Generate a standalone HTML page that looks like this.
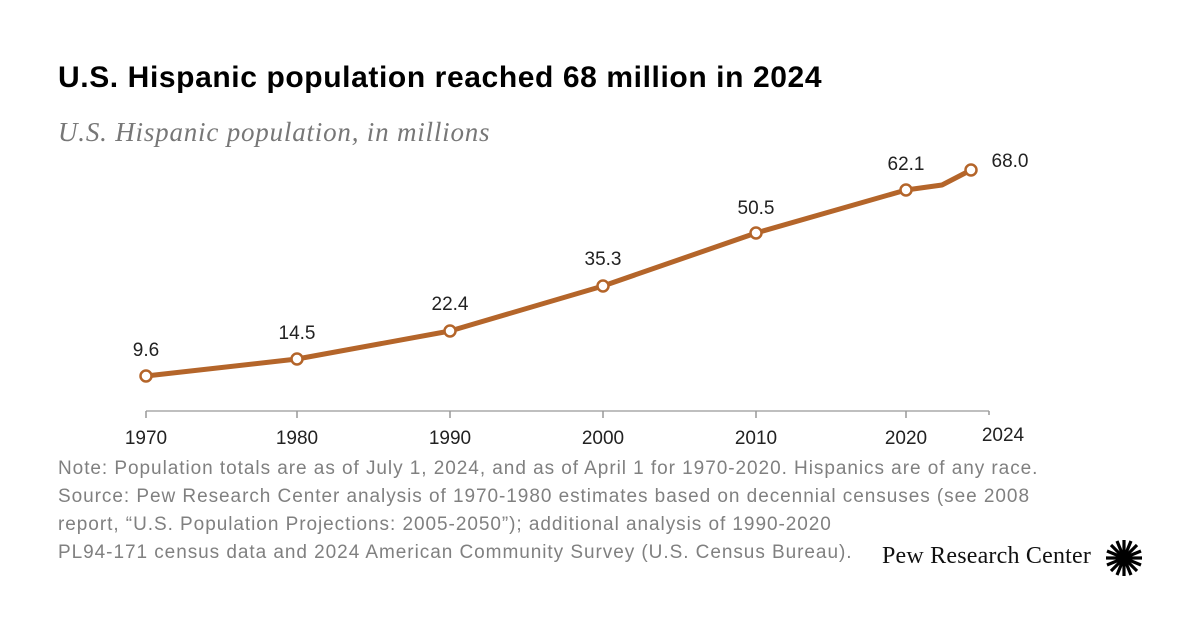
<!DOCTYPE html>
<html><head><meta charset="utf-8"><style>
body{margin:0;width:1200px;height:628px;background:#fff;overflow:hidden;position:relative;font-family:"Liberation Sans",sans-serif}
.t{position:absolute;left:58px;top:61px;font-size:30px;font-weight:bold;color:#000;letter-spacing:0.6px}
.s{position:absolute;left:58px;top:117px;font-family:"Liberation Serif",serif;font-style:italic;font-size:27px;color:#777;letter-spacing:0.8px}
.n{position:absolute;left:58px;top:455px;font-size:19px;line-height:28px;color:#808080;letter-spacing:0.95px}
.logo{position:absolute;left:882px;top:543px;font-family:"Liberation Serif",serif;font-size:24px;color:#111;letter-spacing:0.2px}
</style></head><body>
<div class="t">U.S. Hispanic population reached 68 million in 2024</div>
<div class="s">U.S. Hispanic population, in millions</div>
<svg width="1200" height="628" style="position:absolute;left:0;top:0">
<line x1="146" y1="411" x2="989" y2="411" stroke="#aaa" stroke-width="1.5"/>
<g stroke="#999" stroke-width="1.5">
<line x1="146" y1="411" x2="146" y2="418"/><line x1="297" y1="411" x2="297" y2="418"/><line x1="450" y1="411" x2="450" y2="418"/><line x1="603" y1="411" x2="603" y2="418"/><line x1="756" y1="411" x2="756" y2="418"/><line x1="906" y1="411" x2="906" y2="418"/><line x1="989" y1="411" x2="989" y2="415"/>
</g>
<g font-family="Liberation Sans" font-size="19" fill="#222" text-anchor="middle">
<text x="146" y="444">1970</text><text x="297" y="444">1980</text><text x="450" y="444">1990</text><text x="603" y="444">2000</text><text x="756" y="444">2010</text><text x="906" y="444">2020</text><text x="1003" y="441">2024</text>
<text x="146" y="356">9.6</text><text x="297" y="339">14.5</text><text x="450" y="310">22.4</text><text x="603" y="265">35.3</text><text x="756" y="214">50.5</text><text x="906" y="170">62.1</text><text x="1010" y="167">68.0</text>
</g>
<polyline points="146,376 297,359 450,331 603,286 756,233 906,190 942,185 971,170" fill="none" stroke="#b4652a" stroke-width="5" stroke-linejoin="round"/>
<g fill="#fff" stroke="#b4652a" stroke-width="2.5">
<circle cx="146" cy="376" r="5.5"/><circle cx="297" cy="359" r="5.5"/><circle cx="450" cy="331" r="5.5"/><circle cx="603" cy="286" r="5.5"/><circle cx="756" cy="233" r="5.5"/><circle cx="906" cy="190" r="5.5"/><circle cx="971" cy="170" r="5.5"/>
</g>
<g transform="translate(1124,558)" stroke="#000" stroke-width="3.2">
<line x1="-18" y1="0" x2="18" y2="0"/><line x1="0" y1="-18" x2="0" y2="18"/>
<line x1="-13" y1="-13" x2="13" y2="13"/><line x1="-13" y1="13" x2="13" y2="-13"/>
<line x1="-7" y1="-17" x2="7" y2="17"/><line x1="7" y1="-17" x2="-7" y2="17"/>
<line x1="-17" y1="-7" x2="17" y2="7"/><line x1="-17" y1="7" x2="17" y2="-7"/>
</g>
<circle cx="1124" cy="558" r="4" fill="#000"/>
</svg>
<div class="n">Note: Population totals are as of July 1, 2024, and as of April 1 for 1970-2020. Hispanics are of any race.<br>Source: Pew Research Center analysis of 1970-1980 estimates based on decennial censuses (see 2008<br>report, “U.S. Population Projections: 2005-2050”); additional analysis of 1990-2020<br>PL94-171 census data and 2024 American Community Survey (U.S. Census Bureau).</div>
<div class="logo">Pew Research Center</div>
</body></html>
